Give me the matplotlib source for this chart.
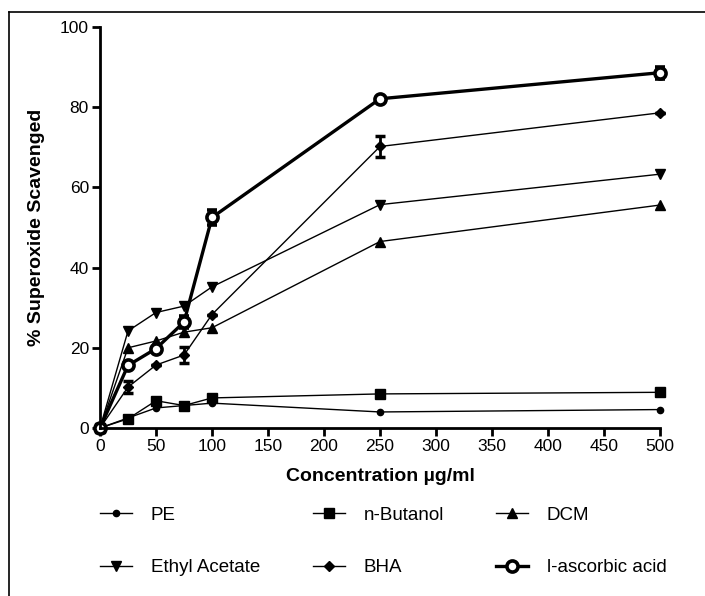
import numpy as np
import matplotlib.pyplot as plt
from matplotlib.lines import Line2D

plt.rcParams['font.family'] = ['Liberation Sans', 'DejaVu Sans']

# concentrations (ug/ml)
conc = [0, 25, 50, 75, 100, 250, 500]

# % superoxide scavenged
pe = [0, 2.5, 5.0, 5.6, 6.2, 4.0, 4.6]
butanol = [0, 2.3, 6.8, 5.6, 7.5, 8.5, 8.9]
dcm = [0, 20.0, 21.7, 23.9, 25.0, 46.5, 55.6]
ethyl = [0, 24.2, 28.8, 30.4, 35.2, 55.7, 63.3]
bha = [0, 10.2, 15.7, 18.2, 28.3, 70.2, 78.6]
ascorbic = [0, 15.6, 19.8, 26.4, 52.5, 82.1, 88.6]

# error bars (only where visible)
bha_err = [0, 1.5, 0, 2.0, 0, 2.5, 0]
asc_err = [0, 0, 0, 1.5, 1.8, 0, 1.5]

fig = plt.figure(figsize=(7.05, 5.96), dpi=100)
ax = fig.add_axes([100/705, 1-428/596, 560/705, 401/596])

thin = dict(color='black', lw=1.0, clip_on=False)
ax.plot(conc, pe, marker='o', ms=4.5, **thin)
ax.plot(conc, butanol, marker='s', ms=7, **thin)
ax.plot(conc, dcm, marker='^', ms=7, **thin)
ax.plot(conc, ethyl, marker='v', ms=7, **thin)
ax.errorbar(conc, bha, yerr=bha_err, marker='D', ms=5.5, capsize=3.5, elinewidth=2,
            capthick=2.5, **thin)
ax.errorbar(conc, ascorbic, yerr=asc_err, marker='o', ms=8, mfc='white', mew=2.6,
            color='black', lw=2.4, capsize=3.5, elinewidth=2.5, capthick=2.5, clip_on=False)

ax.set_xlim(0, 500)
ax.set_ylim(0, 100)
ax.set_xticks(np.arange(0, 501, 50))
ax.set_yticks(np.arange(0, 101, 20))
for s in ['top', 'right']:
    ax.spines[s].set_visible(False)
for s in ['left', 'bottom']:
    ax.spines[s].set_linewidth(2)
ax.tick_params(width=2, length=6, labelsize=12.5, pad=2)
ax.set_xlabel('Concentration µg/ml', fontsize=14, fontweight='bold', labelpad=10)
ax.set_ylabel('% Superoxide Scavenged', fontsize=14, fontweight='bold', labelpad=11)

# legend handles (column-major order for ncol=3)
names = ['PE', 'Ethyl Acetate', 'n-Butanol', 'BHA', 'DCM', 'l-ascorbic acid']
styles = [('o', 4.5, 'black', 1.0, 1.0), ('v', 7, 'black', 1.0, 1.0),
          ('s', 7, 'black', 1.0, 1.0), ('D', 5.5, 'black', 1.0, 1.0),
          ('^', 7, 'black', 1.0, 1.0), ('o', 8, 'white', 2.4, 2.6)]
handles = [Line2D([], [], color='black', marker=m, ms=s, mfc=fc, lw=lw, mew=mew)
           for m, s, fc, lw, mew in styles]
fig.legend(handles, names, ncol=3, loc='upper left', bbox_to_anchor=(91/705, 1-497/596),
           frameon=False, fontsize=13.5, borderpad=0, handlelength=1.7, handletextpad=1.0,
           columnspacing=2.8, labelspacing=1.9)

# outer frame (cut off at right/bottom)
fig.add_artist(Line2D([9/705, 9/705], [0, 1-12/596], color='black', lw=1.2))
fig.add_artist(Line2D([9/705, 1], [1-12/596, 1-12/596], color='black', lw=1.2))

fig.savefig('out.png', dpi=100)
